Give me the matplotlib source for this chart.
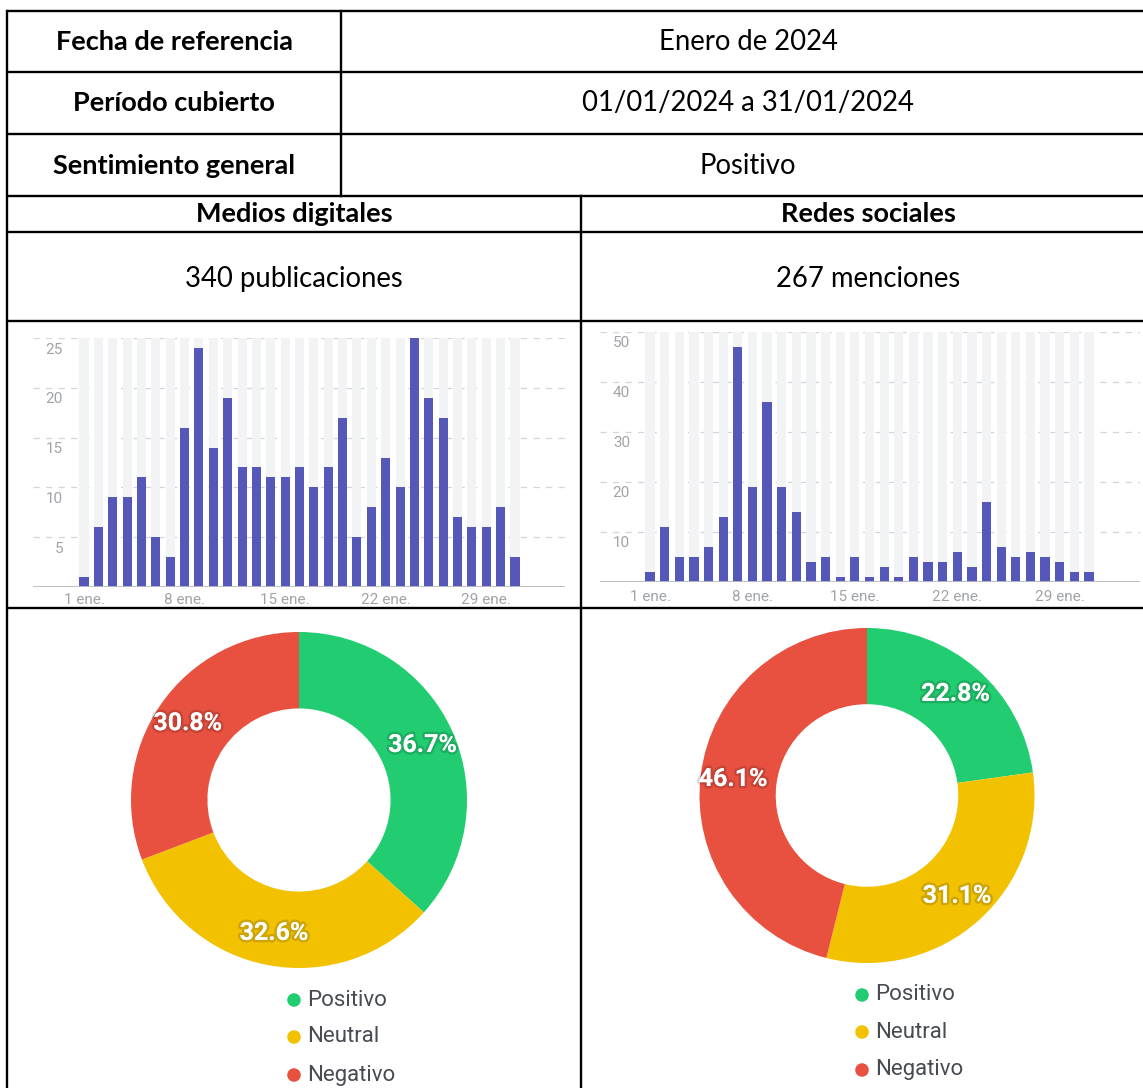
import numpy as np
import matplotlib
matplotlib.use("Agg")
import matplotlib.pyplot as plt
import matplotlib.patheffects as pe
from matplotlib.transforms import offset_copy

# -------------------------------------------------------------------------
# Data
# -------------------------------------------------------------------------
row_labels = ["Fecha de referencia", "Período cubierto", "Sentimiento general"]
row_values = ["Enero de 2024", "01/01/2024 a 31/01/2024", "Positivo"]
col_headers = ["Medios digitales", "Redes sociales"]
col_totals = ["340 publicaciones", "267 menciones"]

day_ticks = [1, 8, 15, 22, 29]
day_labels = ["1 ene.", "8 ene.", "15 ene.", "22 ene.", "29 ene."]

medios_daily = [1, 6, 9, 9, 11, 5, 3, 16, 24, 14, 19, 12, 12, 11, 11, 12,
                10, 12, 17, 5, 8, 13, 10, 25, 19, 17, 7, 6, 6, 8, 3]
redes_daily = [2, 11, 5, 5, 7, 13, 47, 19, 36, 19, 14, 4, 5, 1, 5, 1,
               3, 1, 5, 4, 4, 6, 3, 16, 7, 5, 6, 5, 4, 2, 2]

sentiments = ["Positivo", "Neutral", "Negativo"]
medios_pct = [36.7, 32.6, 30.8]
redes_pct = [22.8, 31.1, 46.1]

sent_colors = ["#22cd72", "#f2c100", "#e8503f"]
bar_color = "#5558b9"

# -------------------------------------------------------------------------
# Figure in pixel space
# -------------------------------------------------------------------------
W, H = 1143, 1088
fig = plt.figure(figsize=(W / 100, H / 100), dpi=100)
fig.patch.set_facecolor("white")


def px_axes(x0, y0, x1, y1):
    return fig.add_axes([x0 / W, 1 - y1 / H, (x1 - x0) / W, (y1 - y0) / H])


bg = fig.add_axes([0, 0, 1, 1])
bg.set_xlim(0, W)
bg.set_ylim(H, 0)
bg.axis("off")

# table lines
lw = 1.7
left, top, right = 7, 10.5, W
for y in [top, 72, 134, 196, 232, 321, 608]:
    bg.plot([left, right], [y, y], color="black", lw=lw, solid_capstyle="butt")
bg.plot([left, left], [top, H], color="black", lw=lw)
bg.plot([341, 341], [top, 196], color="black", lw=lw)
bg.plot([581, 581], [196, H], color="black", lw=lw)

# table texts
tfont = "Lato"
bold_size, reg_size = 19.5, 19.8
for lab, val, yc in zip(row_labels, row_values, [42, 103, 166]):
    bg.text(174, yc, lab, fontsize=bold_size, fontweight="bold", family=tfont,
            ha="center", va="center")
    bg.text(748, yc, val, fontsize=reg_size, family=tfont, ha="center",
            va="center")
for txt, xc in zip(col_headers, [294, 868]):
    bg.text(xc, 214, txt, fontsize=bold_size, fontweight="bold", family=tfont,
            ha="center", va="center")
for txt, xc in zip(col_totals, [294, 868]):
    bg.text(xc, 279, txt, fontsize=reg_size, family=tfont, ha="center",
            va="center")


# -------------------------------------------------------------------------
# Bar charts
# -------------------------------------------------------------------------
def bar_chart(rect, values, ymax, step, xlim, lab_x, lab_dy, xlab_dy):
    ax = px_axes(*rect)
    x = np.arange(len(values))
    ax.bar(x, [ymax] * len(values), width=0.63, color="#f2f3f5", zorder=1)
    for t in np.arange(step, ymax + 0.1, step):
        ax.axhline(t, color="#d3d5d8", lw=0.9, ls=(0, (5, 5)), zorder=0.5)
    ax.bar(x, values, width=0.63, color=bar_color, zorder=2)
    ax.axhline(0, color="#b8bcc0", lw=1.3, zorder=3)
    ax.set_xlim(*xlim)
    ax.set_ylim(0, ymax)
    ax.axis("off")
    ytr = offset_copy(ax.get_yaxis_transform(), fig=fig, y=-lab_dy, units="dots")
    for t in np.arange(step, ymax + 0.1, step):
        ax.text(lab_x, t, f"{int(t)}", transform=ytr, ha="right", va="center",
                fontsize=11, color="#a0a4a8", family="Roboto")
    xtr = offset_copy(ax.get_xaxis_transform(), fig=fig, y=-xlab_dy, units="dots")
    for d, lab in zip(day_ticks, day_labels):
        ax.text(d - 1, 0, lab, transform=xtr, ha="center", va="center",
                fontsize=11, color="#a0a4a8", family="Roboto")
    return ax


bar_chart((33, 338, 565, 587), medios_daily, 25, 5, (-3.55, 33.48),
          0.0564, 11.5, 13)
bar_chart((600, 332, 1140, 582), redes_daily, 50, 10, (-3.42, 33.49),
          0.0556, 11, 15)


# -------------------------------------------------------------------------
# Donuts
# -------------------------------------------------------------------------
def donut(cx, cy, r, pct):
    ax = px_axes(cx - r, cy - r, cx + r, cy + r)
    ax.pie(pct, colors=sent_colors, startangle=90, counterclock=False,
           radius=1, wedgeprops=dict(width=0.455, linewidth=0))
    ax.set_xlim(-1, 1)
    ax.set_ylim(-1, 1)
    ax.set_aspect("equal")
    ax.axis("off")
    total = sum(pct)
    start = 90.0
    for p in pct:
        span = 360.0 * p / total
        mid = np.deg2rad(start - span / 2)
        start -= span
        ax.text(0.805 * np.cos(mid), 0.805 * np.sin(mid), f"{p}%",
                ha="center", va="center", fontsize=18, fontweight="bold",
                color="white", family="Roboto", clip_on=False,
                path_effects=[pe.withStroke(linewidth=3.5,
                                            foreground=(0, 0, 0, 0.15))])


donut(299, 800, 168, medios_pct)
donut(867, 795.5, 167.5, redes_pct)

# legends
for (dx, ys) in [(294, [1000, 1037, 1075]), (862, [995, 1032, 1070])]:
    for lab, col, yy in zip(sentiments, sent_colors, ys):
        bg.scatter([dx], [yy], s=95, color=col, edgecolors="none", zorder=5)
        bg.text(dx + 13, yy, lab, fontsize=16, family="Roboto", color="#474c52",
                ha="left", va="center")

fig.savefig("out.png", dpi=100, facecolor="white")
